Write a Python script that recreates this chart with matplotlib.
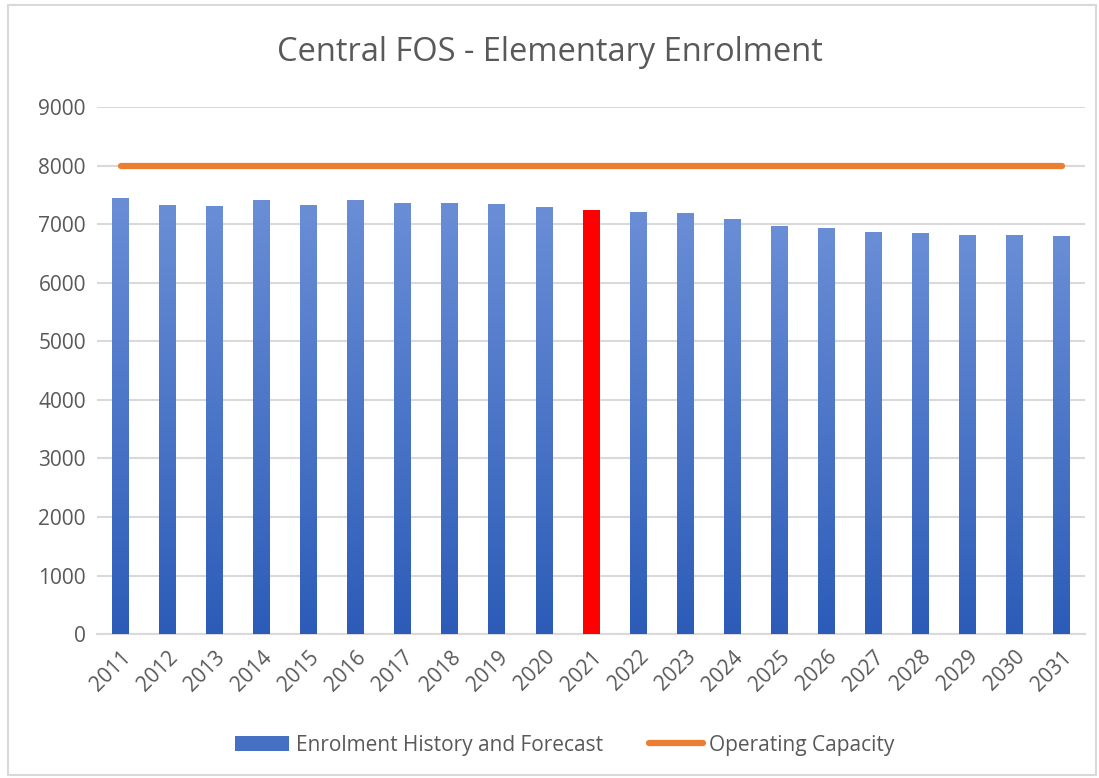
import numpy as np
import matplotlib.pyplot as plt
from matplotlib.patches import Rectangle, Patch
from matplotlib.lines import Line2D
from matplotlib.colors import LinearSegmentedColormap

plt.rcParams['font.family'] = ['Open Sans', 'DejaVu Sans']

years = [str(y) for y in range(2011, 2032)]
enrolment = [7441, 7322, 7305, 7407, 7322, 7407, 7356, 7356, 7339, 7288, 7237,
             7203, 7186, 7085, 6966, 6932, 6864, 6831, 6797, 6797, 6780]
capacity = [8000] * len(years)
highlight = '2021'

grey = '#595959'
orange = '#ed7d31'
grad = LinearSegmentedColormap.from_list('g', ['#2c5cb8', '#6a8ed6'])

fig = plt.figure(figsize=(10.99, 7.78), dpi=100)
ax = fig.add_axes([0.0883, 0.185, 0.8990, 0.6775])

x = np.arange(len(years))
bars = ax.bar(x, enrolment, width=0.36, color='none', zorder=3)
g = np.linspace(0, 1, 256).reshape(-1, 1)
for i, b in enumerate(bars):
    if years[i] == highlight:
        b.set_facecolor('#ff0000')
        continue
    x0, w, h = b.get_x(), b.get_width(), b.get_height()
    ax.imshow(g, cmap=grad, origin='lower', aspect='auto',
              extent=[x0, x0 + w, 0, h], zorder=3)
ax.plot(x, capacity, color=orange, lw=4.5, solid_capstyle='round', zorder=4)

ax.set_xlim(-0.5, len(years) - 0.5)
ax.set_ylim(0, 9000)
ax.set_yticks(range(0, 9001, 1000))
ax.yaxis.grid(True, color='#d9d9d9', lw=1.5, zorder=0)
ax.set_axisbelow(True)
for s in ['top', 'right', 'left']:
    ax.spines[s].set_visible(False)
ax.spines['bottom'].set_color('#d9d9d9')
ax.spines['bottom'].set_linewidth(1.5)
ax.tick_params(length=0, colors=grey, labelsize=15, pad=8)
ax.set_xticks(x)
ax.set_xticklabels(years, rotation=45, ha='right', rotation_mode='anchor')
ax.tick_params(axis='x', pad=9)

fig.text(0.5, 0.932, 'Central FOS - Elementary Enrolment', ha='center', va='center',
         fontsize=23.5, color=grey)

handles = [Patch(facecolor='#4670c4', edgecolor='none'),
           Line2D([0], [0], color=orange, lw=4.5, solid_capstyle='round')]
fig.legend(handles, ['Enrolment History and Forecast', 'Operating Capacity'],
           loc='center', bbox_to_anchor=(0.514, 0.042), ncol=2, frameon=False,
           fontsize=15, labelcolor=grey, handlelength=2.6, handleheight=0.75,
           columnspacing=2.2, handletextpad=0.3)

fig.patches.append(Rectangle((0.007, 0.004), 0.99, 0.99, transform=fig.transFigure,
                             fill=False, edgecolor='#d9d9d9', lw=1.5))

plt.savefig('out.png')
